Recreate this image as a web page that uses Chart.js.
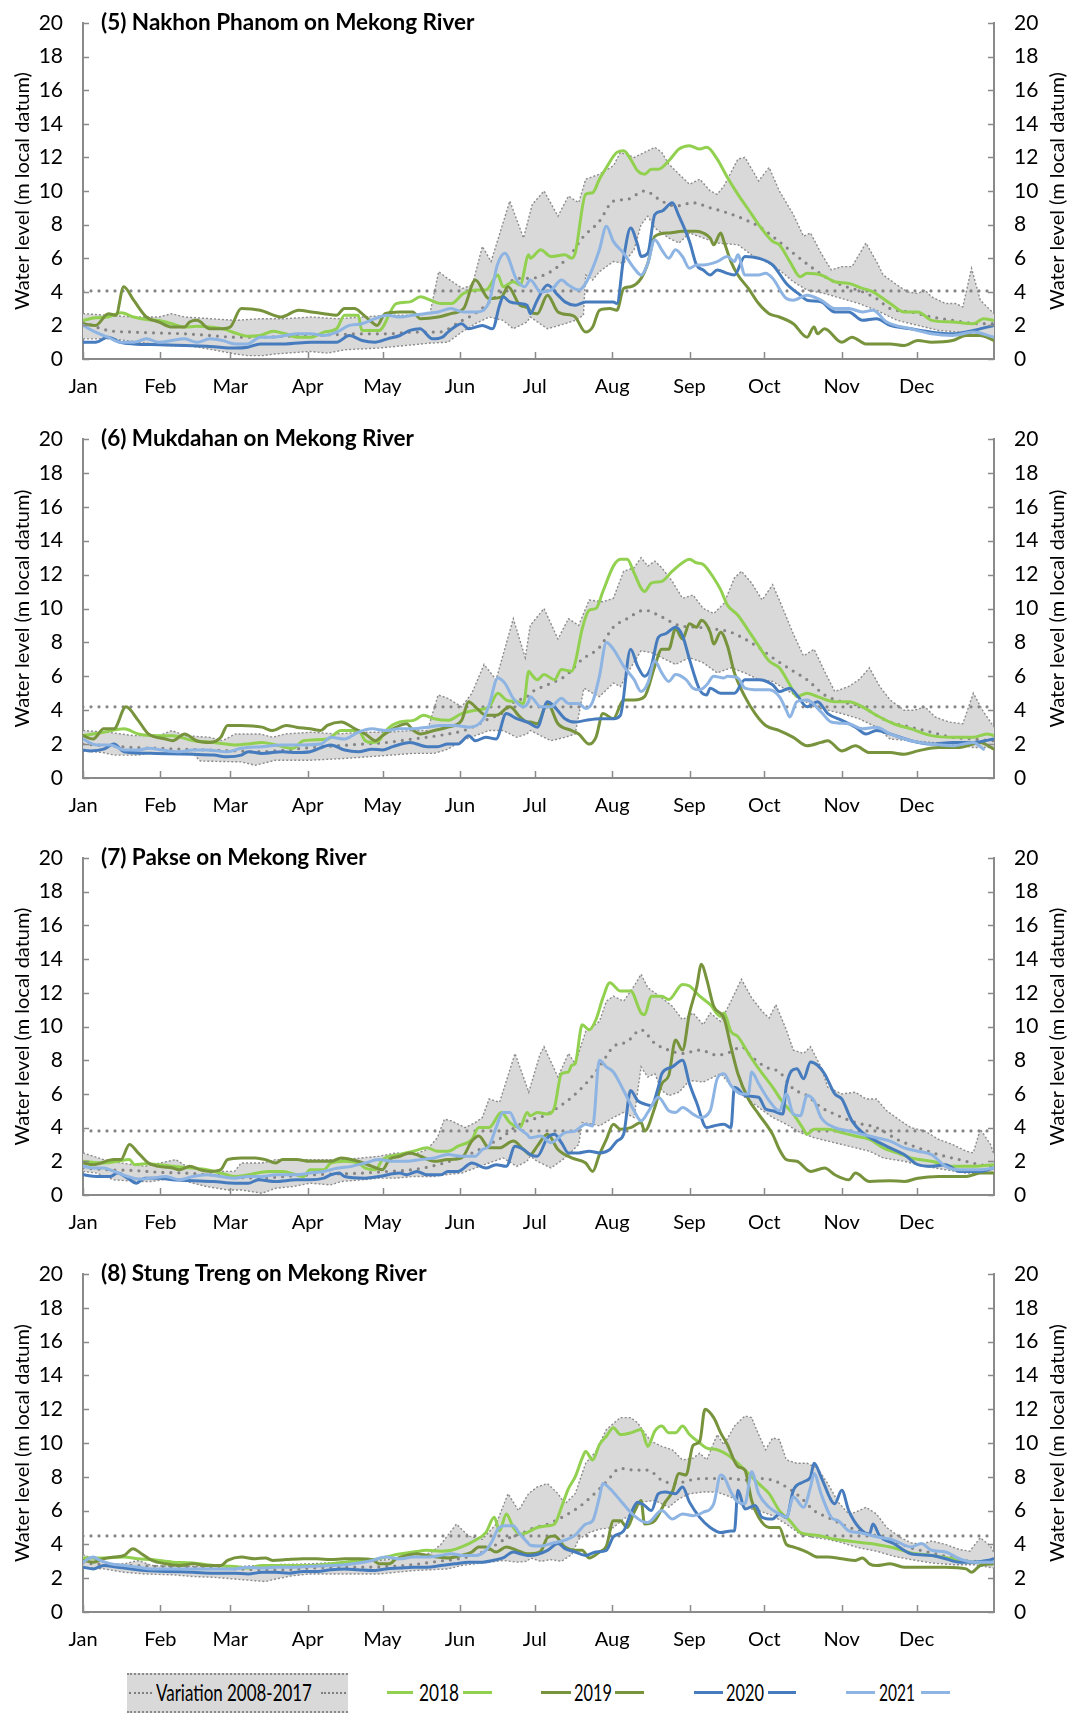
<!DOCTYPE html>
<html>
<head>
<meta charset="utf-8">
<script src="https://cdn.jsdelivr.net/npm/chart.js@4.4.0/dist/chart.umd.min.js"></script>
<style>
  html,body{margin:0;padding:0;background:#fff;}
  body{position:relative;width:1073px;height:1713px;overflow:hidden;font-family:Lato,"Open Sans",sans-serif;}
  canvas{position:absolute;left:0;}
  .lg-box{position:absolute;background:#d9d9d9;border-top:2px dotted #8a8a8a;border-bottom:2px dotted #8a8a8a;box-sizing:border-box;}
  .lg-dot{position:absolute;top:1692px;height:0;border-top:2px dotted #7f7f7f;}
  .lg-line{position:absolute;top:1691px;height:3px;}
  .lg-txt{position:absolute;top:1680px;font-size:24px;line-height:24px;font-family:Lato,sans-serif;color:#000;white-space:nowrap;transform-origin:0 50%;}
</style>
</head>
<body>

<div class="lg-box" style="left:127px;top:1673px;width:221px;height:40px;"></div>
<div class="lg-dot" style="left:129px;width:23px;"></div>
<span class="lg-txt" data-w="156" style="left:156px;">Variation 2008-2017</span>
<div class="lg-dot" style="left:321px;width:25px;"></div>

<div class="lg-line" style="left:387px;width:26px;background:#92D050;"></div>
<span class="lg-txt" data-w="40" style="left:419px;">2018</span>
<div class="lg-line" style="left:463px;width:29px;background:#92D050;"></div>

<div class="lg-line" style="left:541px;width:30px;background:#77933C;"></div>
<span class="lg-txt" data-w="38" style="left:574px;">2019</span>
<div class="lg-line" style="left:615px;width:29px;background:#77933C;"></div>

<div class="lg-line" style="left:694px;width:29px;background:#467CBE;"></div>
<span class="lg-txt" data-w="38" style="left:726px;">2020</span>
<div class="lg-line" style="left:768px;width:28px;background:#467CBE;"></div>

<div class="lg-line" style="left:846px;width:29px;background:#8DB4E2;"></div>
<span class="lg-txt" data-w="36" style="left:879px;">2021</span>
<div class="lg-line" style="left:921px;width:29px;background:#8DB4E2;"></div>

<script>
// ---------------- DATA ----------------
const MONTHS = ['Jan','Feb','Mar','Apr','May','Jun','Jul','Aug','Sep','Oct','Nov','Dec'];
const MONTH_START = [0,31,59,90,120,151,181,212,243,273,304,334];
const TITLES = ['(5) Nakhon Phanom on Mekong River','(6) Mukdahan on Mekong River','(7) Pakse on Mekong River','(8) Stung Treng on Mekong River'];
const Y_TITLE = 'Water level (m local datum)';
const FLAT_LEVEL = [4.05, 4.2, 3.8, 4.5];

// (5) Nakhon Phanom  [day of year, water level]
const p5_upper = [[0,2.7],[10,2.6],[20,2.5],[30.5,2.5],[35.5,2.7],[40.7,2.5],[51,2.4],[61,2.3],[71,2.4],[81,2.4],[91.5,2.5],[101.5,2.4],[112,2.5],[122,2.6],[132,2.6],[139,2.7],[142.5,5.2],[146,4.8],[152,4.2],[156,4.4],[160,6.7],[163.5,5.8],[171,9.4],[176.5,7.2],[180,9.2],[184.7,10.0],[190.3,8.5],[194.5,9.7],[198.6,9.3],[201.4,10.7],[206.9,11.0],[212.5,11.5],[215.3,12.3],[220.8,12.0],[229.1,12.6],[231.9,12.3],[234.7,11.6],[240.2,10.8],[243,10.4],[247.1,10.7],[251.3,10.0],[254.1,9.8],[256.8,10.3],[262.4,11.9],[265.2,12.0],[270.7,10.6],[274.9,11.4],[279,10.0],[284.6,8.6],[288.7,7.3],[291.5,7.5],[295.7,6.3],[299.8,5.3],[304,5.5],[308.1,5.5],[313.7,6.9],[317.9,5.8],[320.6,5.0],[326.2,4.4],[330.3,4.0],[334.5,3.9],[337.3,4.1],[340,3.7],[345.6,3.3],[349.7,3.3],[352.5,3.1],[356,5.4],[359.5,3.5],[365,2.7]];
const p5_lower = [[0,1.2],[12,1.2],[22,1.0],[33,0.8],[44,0.75],[52,0.55],[61,0.3],[66,0.2],[72,0.2],[77,0.3],[91,0.45],[98,0.35],[105,0.55],[118.6,0.65],[125.5,0.75],[132.4,0.85],[139.3,0.95],[146.2,1.0],[151.7,1.6],[157.2,2.1],[162.7,2.5],[168.3,2.3],[172.4,1.8],[177.9,2.2],[179.2,2.5],[186.1,1.8],[193.1,2.1],[197.2,2.3],[200.5,2.6],[201.4,5.0],[204.2,4.7],[206.9,5.2],[212.5,5.8],[216.6,5.7],[220.8,6.5],[223.6,8.0],[226.3,8.5],[229.1,7.8],[234.7,7.2],[238.8,6.9],[243,7.5],[248.5,7.2],[254.1,6.9],[262.4,6.8],[267.9,6.2],[273.5,5.8],[279,5.3],[284.6,4.6],[290.1,4.1],[297.1,3.9],[304,3.6],[310.9,3.3],[317.9,2.9],[326.2,2.3],[334.5,2.0],[342.8,1.7],[351.1,1.6],[359.5,1.4],[365,1.3]];
const p5_mean = [[0,2.2],[10,1.7],[20.3,1.6],[30.5,1.55],[40.7,1.5],[51,1.4],[61,1.3],[71,1.3],[81,1.35],[91.5,1.4],[101.5,1.45],[111.8,1.5],[122,1.5],[132,1.6],[142.3,1.6],[152,2.3],[157,2.7],[163,3.4],[168.3,4.1],[173.8,4.8],[179,4.8],[184.7,5.0],[190.3,5.5],[195.8,6.3],[200,7.2],[206.9,8.2],[212.5,9.4],[218,9.5],[225,10.0],[231.9,9.4],[237.4,9.1],[244.4,9.3],[251.3,9.0],[258.2,8.7],[265.2,8.3],[270.7,7.9],[276.3,7.3],[284.6,6.3],[291.5,5.5],[298.4,4.8],[304,4.4],[312.3,4.0],[317.9,3.6],[323.4,3.0],[331.7,2.8],[340,2.5],[348.4,2.3],[359.5,2.1],[365,2.1]];
const p5_2018 = [[0,2.3],[5,2.45],[10,2.5],[15.2,2.75],[20.3,2.5],[25.4,2.35],[30.5,2.3],[35.6,2.1],[40.7,1.9],[45.7,1.95],[50.8,1.9],[55.9,1.8],[61,1.55],[66.2,1.35],[71,1.4],[76.3,1.65],[81,1.5],[86,1.3],[91.5,1.3],[96.5,1.6],[101.6,1.8],[104.8,2.6],[110.3,2.6],[111.7,1.7],[118.6,1.7],[125.5,3.3],[131,3.4],[135.2,3.7],[139.3,3.5],[143.4,3.3],[147.6,3.3],[152.4,3.9],[157.2,4.1],[161.4,4.1],[166.2,5.0],[168.3,4.3],[172.4,4.6],[175.1,4.4],[178.6,6.2],[179.2,6.0],[183.4,6.5],[187.5,6.1],[193.1,6.2],[195.8,6.0],[197.2,6.3],[201.4,9.8],[204.2,9.9],[206.9,10.7],[209.7,11.4],[213.9,12.3],[216.6,12.4],[219.4,11.9],[222.2,11.2],[225,11.0],[227.7,11.3],[230.5,11.3],[234.7,11.8],[238.8,12.5],[243,12.7],[247.1,12.5],[249.9,12.6],[254.1,11.9],[258.2,10.8],[262.4,9.8],[266.6,8.9],[270.7,8.0],[276.3,7.0],[279,6.8],[283.2,5.8],[287.4,4.9],[290.1,5.1],[295.7,5.0],[301.2,4.6],[306.8,4.5],[312.3,4.2],[316.5,4.0],[323.4,3.3],[329,2.8],[334.5,2.8],[340,2.3],[348.4,2.2],[356.7,2.1],[360.8,2.4],[365,2.3]];
const p5_2019 = [[0,2.1],[5,2.0],[10.2,2.7],[13.2,2.6],[16.3,4.3],[20.3,3.5],[25.4,2.5],[30.5,2.2],[35.6,1.9],[40.7,1.9],[42.7,2.2],[45.7,2.3],[50.8,1.8],[55.9,1.8],[59,1.9],[63.4,3.0],[71,2.9],[79.3,2.5],[86.4,2.9],[91.5,2.8],[96.5,2.7],[101.6,2.6],[104.7,3.0],[108.8,3.0],[111.8,2.7],[114.9,2.3],[117.9,2.0],[121,2.7],[127,2.8],[132.1,2.8],[135.2,2.4],[142.3,2.5],[147.4,2.7],[152.5,3.0],[157.2,4.7],[162.6,3.6],[167.7,3.7],[170.3,4.3],[175.1,3.2],[178.6,3.0],[179.2,2.8],[182,2.7],[186.1,3.8],[190.3,2.8],[195.8,2.6],[197.2,2.5],[201.4,1.6],[204.2,1.9],[206.9,2.9],[211.1,3.0],[213.9,2.9],[216.6,4.2],[219.4,4.3],[223.6,4.8],[226.3,5.7],[229.1,7.3],[234.7,7.5],[240.2,7.6],[245.8,7.6],[248.5,7.5],[251.3,7.2],[252.7,6.8],[255.5,7.5],[256.8,7.0],[259.6,5.8],[262.4,5.0],[266.6,4.2],[270.7,3.3],[274.9,2.7],[279,2.5],[284.6,2.1],[290.1,1.3],[292.9,1.9],[294.3,1.5],[297.1,1.8],[304,1.0],[308.1,1.3],[313.7,0.9],[323.4,0.9],[329,0.8],[334.5,1.1],[340,1.0],[348.4,1.1],[353.9,1.4],[359.5,1.4],[365,1.1]];
const p5_2020 = [[0,1.0],[5,1.0],[10,1.3],[15,1.0],[20.3,0.9],[30.5,0.85],[40.7,0.8],[50.8,0.75],[61,0.65],[66,0.7],[71,0.9],[81,0.9],[91.5,1.0],[101.6,1.0],[106.7,1.4],[111.8,1.1],[117,1.0],[122,1.2],[127,1.4],[131,1.7],[135,1.8],[140,1.2],[144,1.3],[146.2,1.6],[151.7,2.1],[154.5,1.8],[160,2.0],[164.1,1.8],[166.9,3.2],[168.3,3.7],[171,3.4],[175.1,3.3],[177.9,3.2],[179.2,2.7],[182,3.5],[186.1,4.4],[190.3,3.8],[193.1,3.4],[197.2,3.2],[201.4,3.4],[206.9,3.4],[212.5,3.4],[213.9,3.3],[216.6,6.0],[219.4,7.8],[222.2,6.8],[223.6,6.1],[226.3,6.3],[229.1,8.6],[231.9,8.8],[236.1,9.3],[238.8,8.5],[243,7.0],[245.8,5.6],[248.5,5.3],[251.3,5.0],[254.1,5.3],[258.2,5.1],[261,5.0],[265.2,6.1],[270.7,6.0],[276.3,5.6],[281.8,4.5],[287.4,3.8],[290.1,3.5],[295.7,3.4],[301.2,2.8],[306.8,2.8],[312.3,2.3],[317.9,2.4],[323.4,2.0],[331.7,1.8],[340,1.6],[348.4,1.5],[356.7,1.7],[365,2.0]];
const p5_2021 = [[0,2.0],[5,1.6],[10,1.3],[15,1.0],[20.3,1.0],[25.4,1.2],[30.5,1.0],[35.6,1.1],[40.7,1.2],[45.7,1.0],[50.8,1.2],[55.9,1.1],[61,0.9],[66,0.9],[71,1.3],[76,1.3],[81,1.4],[86,1.5],[91.5,1.5],[96.5,1.4],[101.6,1.6],[106.7,2.0],[111.8,2.1],[117,2.4],[122,2.6],[127,2.5],[132,2.6],[137,2.7],[142.3,2.8],[147.4,3.0],[152.5,2.8],[157.5,2.8],[162.7,3.4],[166,5.6],[169,6.3],[173.8,4.7],[177,4.3],[179.2,4.7],[183.4,4.0],[187.5,4.1],[191.7,4.7],[194.5,4.4],[198.6,4.1],[201.4,4.5],[204.2,5.4],[206.9,6.5],[209.7,7.9],[212.5,7.0],[216.6,6.3],[220.8,5.4],[223.6,5.0],[226.3,5.7],[229.1,7.1],[231.9,6.5],[234.7,6.0],[237.4,6.5],[240.2,6.1],[243,5.4],[245.8,5.6],[248.5,5.6],[254.1,5.8],[258.2,6.1],[261,5.8],[262.4,6.2],[265.2,5.0],[270.7,5.0],[273.5,5.1],[276.3,4.8],[281.8,3.6],[284.6,3.5],[290.1,3.8],[295.7,3.5],[301.2,3.0],[306.8,3.0],[312.3,2.8],[316.5,2.9],[322,2.2],[331.7,1.8],[340,1.5],[348.4,1.4],[356.7,1.6],[365,1.3]];

// (6) Mukdahan
const p6_upper = [[0,2.8],[10,2.7],[20.3,2.5],[30.5,2.5],[35.6,2.8],[40.7,2.5],[50.8,2.4],[55.9,2.2],[61,2.6],[71,2.6],[76,2.4],[81,2.6],[91.5,2.7],[101.6,2.6],[111.8,2.7],[122,2.7],[132,2.8],[138,2.8],[142.3,4.9],[146.2,4.7],[151.7,4.2],[155.8,5.0],[160.7,6.7],[165.5,5.8],[172.4,9.4],[177.2,7.1],[179.2,9.0],[184.7,10.0],[190.3,8.2],[194.5,9.4],[198.6,9.0],[202.8,10.5],[208.3,10.4],[212.5,10.6],[216.6,12.2],[220.8,12.4],[223.6,13.0],[226.3,12.5],[229.1,12.8],[231.9,12.4],[236.1,11.6],[240.2,10.6],[244.4,10.8],[248.5,10.0],[252.7,9.7],[256.8,10.3],[261,11.8],[263.8,12.2],[267.9,11.5],[272.1,10.5],[276.3,11.4],[279,10.5],[284.6,8.5],[288.7,7.2],[292.9,7.6],[297.1,6.3],[301.2,5.1],[306.8,5.4],[310.9,5.8],[315.1,6.5],[319.2,5.4],[323.4,4.6],[329,4.0],[333.1,4.0],[337.3,4.2],[341.4,3.6],[347,3.3],[352.5,3.2],[356.7,5.0],[360.8,3.9],[365,3.0]];
const p6_lower = [[0,1.6],[8,1.5],[12.4,1.35],[22,1.35],[26,1.45],[44,1.45],[47,1.0],[63.4,0.95],[69,0.75],[77.2,1.05],[91,1.05],[104.8,1.15],[118.6,1.3],[132.4,1.45],[140.7,1.45],[146.2,1.7],[151.7,2.2],[157.2,2.5],[162.7,2.8],[168.3,2.8],[173.8,2.4],[177.9,2.6],[179.2,2.8],[182,2.6],[187.5,2.2],[193.1,2.4],[197.2,2.6],[200.7,5.3],[204.2,5.0],[206.9,4.8],[212.5,5.6],[215.3,5.4],[219.4,6.5],[223.6,7.5],[227.7,7.4],[231.9,7.1],[237.4,6.7],[243,7.1],[248.5,6.8],[254.1,6.2],[259.6,6.5],[265.2,6.2],[270.7,5.8],[276.3,5.7],[281.8,5.2],[287.4,4.7],[292.9,4.2],[298.4,4.0],[304,3.8],[310.9,3.5],[317.9,3.0],[323.4,2.3],[331.7,2.2],[340,2.1],[348.4,2.0],[356.7,1.8],[365,1.8]];
const p6_mean = [[0,2.0],[10,1.9],[20.3,1.8],[30.5,1.75],[40.7,1.7],[50.8,1.65],[61,1.6],[71,1.55],[81,1.65],[91.5,1.8],[101.6,1.9],[111.8,2.0],[122,2.1],[132,2.3],[142.3,2.5],[152.5,2.8],[157.5,3.1],[162.6,3.5],[167.7,3.8],[172.8,4.5],[178,4.8],[179.2,5.0],[186.1,5.5],[193.1,6.0],[200,7.0],[206.9,7.7],[212.5,8.9],[218,9.4],[225,9.9],[231.9,9.5],[238.8,9.0],[245.8,8.9],[252.7,8.8],[259.6,8.6],[265.2,8.2],[270.7,7.7],[276.3,7.1],[284.6,6.3],[290.1,5.8],[297.1,4.9],[304,4.5],[312.3,4.2],[317.9,3.7],[323.4,3.3],[331.7,3.0],[340,2.7],[348.4,2.4],[356.7,2.3],[365,2.2]];
const p6_2018 = [[0,2.5],[8.3,2.7],[16.5,2.9],[22.1,2.6],[30.3,2.5],[35.9,2.5],[44.1,2.2],[52.4,2.1],[60.7,1.95],[66.2,2.0],[71.7,2.1],[77.2,1.95],[84.1,1.75],[88.3,2.2],[97.9,2.3],[103.4,2.8],[110.3,2.8],[113.1,2.2],[115.8,2.1],[118.6,2.2],[121.4,2.8],[126.9,3.3],[132.4,3.4],[136.5,3.7],[140.7,3.5],[146.2,3.4],[151.7,3.8],[157.2,4.0],[162.7,4.2],[166.2,5.0],[169.6,4.6],[173.8,4.5],[176.5,4.4],[178.6,6.3],[179.2,6.2],[182,5.8],[184.7,6.1],[188.9,5.8],[191.7,6.4],[195.8,6.3],[197.2,6.8],[200,8.8],[202.8,9.9],[205.5,10.0],[208.3,11.0],[212.5,12.5],[215.3,12.9],[218,12.9],[220.8,12.1],[223.6,11.2],[225,11.0],[227.7,11.5],[231.9,11.6],[236.1,12.2],[240.2,12.7],[243,12.9],[245.8,12.7],[248.5,12.6],[252.7,11.8],[255.5,11.1],[258.2,10.2],[262.4,9.6],[266.6,8.7],[270.7,7.8],[274.9,6.9],[279,6.5],[283.2,5.5],[286,4.8],[290.1,5.0],[294.3,4.8],[301.2,4.5],[306.8,4.5],[312.3,4.2],[317.9,3.7],[324.8,3.2],[331.7,2.9],[340,2.5],[348.4,2.4],[356.7,2.4],[362.2,2.6],[365,2.5]];
const p6_2019 = [[0,2.5],[4.1,2.3],[8.3,2.9],[12.4,2.9],[17.2,4.2],[22.1,3.4],[26.2,2.6],[33.1,2.3],[35.9,2.2],[40.7,2.6],[45.5,2.2],[51,2.1],[55.2,2.4],[57.9,3.1],[63.4,3.1],[71.7,3.0],[75.9,2.8],[81.4,3.1],[85.5,3.0],[91,2.9],[95.2,2.8],[97.9,3.1],[103.4,3.3],[109,2.9],[113.1,2.6],[117.2,2.2],[120,2.5],[125.5,3.0],[129.6,3.2],[132.4,2.8],[135.2,2.6],[140.7,2.8],[146.2,3.0],[151.7,3.4],[154.5,4.5],[157.2,4.2],[161.4,3.7],[165.5,3.7],[171,4.2],[175.1,3.6],[178,3.3],[179.2,3.3],[182,3.2],[186.1,4.4],[190.3,3.2],[195.8,2.8],[198.6,2.6],[202.8,2.0],[205.5,2.4],[208.3,3.8],[212.5,3.5],[216.6,4.6],[220.8,4.6],[225,4.8],[229.1,6.6],[231.9,7.6],[234.7,7.6],[237.4,8.8],[240.2,8.2],[243,9.1],[245.8,8.9],[247.8,9.3],[251.3,8.6],[252.7,7.9],[255.5,8.6],[258.2,7.8],[261,6.2],[265.2,4.8],[269.3,3.8],[273.5,3.1],[279,2.8],[284.6,2.4],[290.1,1.9],[295.7,2.1],[298.4,2.2],[304,1.6],[309.5,1.9],[315.1,1.5],[323.4,1.5],[329,1.4],[334.5,1.6],[342.8,1.8],[351.1,1.8],[359.5,2.1],[365,1.7]];
const p6_2020 = [[0,1.65],[2.8,1.6],[8.3,1.7],[12.4,2.0],[16.5,1.55],[29,1.45],[44.1,1.4],[52.4,1.35],[57.9,1.25],[63.4,1.35],[66.2,1.55],[71.7,1.45],[80,1.55],[85.5,1.5],[91,1.55],[99.3,1.95],[104.8,1.65],[110.3,1.55],[115.8,1.7],[120,1.65],[124.1,1.85],[131,2.1],[137.9,1.85],[142,1.85],[146.2,2.0],[150.3,2.0],[154.5,2.5],[157.2,2.2],[161.4,2.4],[165.5,2.3],[169.6,3.8],[173.8,3.5],[178,3.3],[179.2,3.2],[182,3.0],[186.1,4.5],[188.9,4.2],[193.1,3.5],[197.2,3.3],[201.4,3.4],[206.9,3.5],[212.5,3.5],[215.3,3.7],[219.4,7.6],[222.2,6.6],[225,6.0],[227.7,6.6],[230.5,8.3],[233.3,8.5],[237.4,8.9],[240.2,8.4],[243,7.0],[247.1,5.2],[249.9,4.9],[251.3,5.3],[255.5,5.0],[261,5.0],[265.2,5.8],[270.7,5.8],[276.3,5.5],[279,5.1],[283.2,5.3],[286,4.9],[290.1,4.2],[294.3,4.5],[298.4,3.8],[304,3.4],[309.5,3.0],[313.7,2.6],[317.9,2.8],[323.4,2.6],[331.7,2.2],[340,2.0],[348.4,2.1],[356.7,2.1],[365,2.3]];
const p6_2021 = [[0,2.3],[5.5,1.95],[11,1.95],[16.5,1.65],[22.1,1.65],[26.2,1.75],[31.7,1.65],[38.6,1.55],[44.1,1.65],[49.6,1.65],[57.9,1.55],[63.4,1.75],[71.7,1.85],[80,1.95],[88.3,1.95],[95.2,2.0],[99.3,2.4],[104.8,2.3],[110.3,2.7],[115.8,2.9],[121.4,2.8],[126.9,2.9],[132.4,2.9],[137.9,3.0],[143.4,3.1],[148.9,3.1],[154.5,3.0],[160,3.4],[162.7,4.3],[166.2,5.9],[169,5.6],[172.4,4.7],[176.5,4.2],[178.5,4.5],[179.2,4.8],[183.4,4.2],[187.5,4.2],[191.7,4.7],[194.5,4.4],[198.6,4.4],[201.4,4.1],[204.2,4.5],[206.9,6.0],[209.7,8.0],[212.5,7.6],[216.6,6.6],[220.8,5.8],[223.6,5.1],[226.3,5.6],[229.1,6.9],[231.9,6.2],[234.7,5.7],[237.4,6.1],[241.6,5.8],[244.4,5.3],[247.1,5.2],[249.9,5.5],[252.7,6.0],[256.8,5.9],[258.2,6.0],[262.4,5.9],[265.2,5.3],[270.7,5.2],[274.9,5.2],[279,4.8],[281.8,4.0],[283.2,3.6],[286,4.5],[290.1,4.6],[295.7,3.9],[299.8,3.3],[306.8,3.2],[312.3,2.9],[317.9,3.0],[323.4,2.6],[331.7,2.2],[340,2.0],[348.4,1.9],[356.7,2.1],[360.8,1.7]];

// (7) Pakse
const p7_upper = [[0,2.5],[8.3,2.1],[15.2,1.9],[24.8,1.7],[37.2,2.1],[41.4,1.7],[49.6,1.4],[60.7,1.4],[63.4,1.9],[71.7,1.9],[77.2,2.1],[91,2.1],[104.8,2.1],[118.6,2.3],[125.5,2.5],[132.4,2.4],[137.9,2.7],[142,3.4],[144.8,4.5],[147.6,4.4],[153.1,4.0],[157.2,4.3],[160,4.6],[162.7,5.7],[166.9,5.5],[173.1,8.4],[178.6,6.1],[183,8.3],[184.7,8.8],[190.3,7.0],[194.5,8.4],[197.2,7.8],[201.4,9.7],[206.9,10.3],[209.7,11.5],[212.5,11.8],[216.6,11.5],[220.8,12.4],[223.6,13.1],[226.3,12.3],[229.1,12.0],[231.9,11.7],[236.1,11.2],[240.2,10.4],[244.4,10.8],[248.5,10.1],[251.3,10.8],[255.5,10.3],[259.6,11.5],[263.8,12.8],[267.9,11.7],[272.1,10.9],[274.9,10.5],[277.6,11.3],[281.8,9.8],[284.6,8.6],[288.7,8.4],[291.5,8.8],[295.7,7.6],[298.4,6.4],[304,6.0],[309.5,6.1],[313.7,5.7],[317.9,5.7],[322,5.0],[327.6,4.4],[331.7,4.0],[337.3,3.8],[342.8,3.3],[348.4,3.0],[353.9,2.6],[356.7,2.5],[359.5,3.9],[363.6,3.0],[365,2.4]];
const p7_lower = [[0,1.4],[5.5,1.3],[12.4,0.9],[22.1,0.8],[27.6,0.8],[35.9,1.0],[44.1,0.7],[49.6,0.5],[57.9,0.3],[63.4,0.3],[71.7,0.1],[77.2,0.4],[84.1,0.5],[91,0.7],[99.3,0.6],[103.4,0.8],[111.7,0.9],[118.6,1.0],[125.5,1.0],[132.4,1.1],[140.7,1.1],[144.8,1.2],[151.7,1.3],[157.2,1.6],[162.7,1.9],[168.3,2.2],[173.8,1.7],[177.9,2.0],[179.2,2.3],[182,2.0],[187.5,1.6],[193.1,2.2],[198.6,3.0],[200,4.3],[204.2,4.2],[206.9,4.1],[212.5,4.6],[216.6,4.9],[220.8,4.6],[223.6,7.6],[226.3,7.0],[229.1,7.2],[231.9,6.2],[234.7,5.9],[238.8,6.1],[243,6.8],[248.5,6.7],[251.3,6.9],[255.5,7.2],[259.6,6.5],[265.2,5.8],[270.7,5.2],[276.3,4.6],[281.8,4.2],[287.4,3.7],[292.9,3.4],[298.4,3.2],[304,3.0],[309.5,2.8],[315.1,2.6],[320.6,2.2],[329,2.0],[337.3,1.7],[345.6,1.5],[353.9,1.3],[365,1.3]];
const p7_mean = [[0,1.6],[10,1.5],[20.3,1.45],[30.5,1.35],[40.7,1.3],[50.8,1.2],[61,1.05],[71,1.0],[81,1.1],[91.5,1.2],[101.6,1.25],[111.8,1.3],[122,1.4],[132,1.5],[142.3,1.8],[152.5,2.3],[157.5,2.6],[162.6,3.0],[167.7,3.4],[172.8,4.0],[178,4.4],[184.7,4.7],[190.3,5.2],[195.8,5.8],[201.4,6.6],[206.9,7.6],[212.5,8.8],[218,9.1],[223.6,9.8],[229.1,9.0],[234.7,8.6],[240.2,8.4],[247.1,8.6],[254.1,8.3],[259.6,8.5],[263.8,8.8],[267.9,8.2],[273.5,7.6],[279,7.3],[284.6,6.3],[290.1,5.9],[295.7,5.2],[301.2,4.8],[309.5,4.3],[317.9,4.0],[326.2,3.3],[334.5,2.8],[342.8,2.4],[351.1,2.1],[359.5,1.8],[365,1.7]];
const p7_2018 = [[0,2.0],[8.3,1.9],[13.8,2.0],[18.6,2.1],[20.7,1.8],[24.8,1.85],[30.3,1.8],[35.9,1.7],[44.1,1.6],[49.6,1.5],[55.2,1.3],[60.7,1.1],[66.2,1.2],[74.5,1.4],[80,1.4],[85.5,1.2],[88.3,1.1],[91,1.5],[96.5,1.5],[99.3,1.9],[104.8,2.0],[110.3,1.9],[113.1,1.6],[117.2,1.5],[120,2.1],[126.9,2.4],[132.4,2.6],[137.9,2.8],[142,2.6],[146.2,2.6],[150.3,2.9],[155.8,3.3],[158.6,4.0],[162.7,4.0],[167.6,4.9],[171,4.3],[175.1,4.0],[177.9,4.9],[179.2,4.7],[182,4.9],[186.1,4.8],[188.9,5.2],[191.7,7.2],[194.5,7.3],[195.8,7.7],[197.2,7.8],[200,10.1],[202.8,9.8],[205.5,10.4],[208.3,11.7],[211.1,12.6],[215.3,12.1],[219.4,12.1],[223.6,10.8],[225,10.7],[227.7,11.8],[231.9,11.8],[234.7,11.6],[240.2,12.5],[243,12.4],[247.1,11.8],[251.3,11.3],[255.5,10.6],[256.8,10.8],[259.6,9.7],[262.4,9.4],[266.6,8.4],[270.7,7.5],[276.3,6.4],[280.4,5.5],[284.6,4.8],[288.7,3.9],[290.1,3.6],[292.9,3.9],[298.4,3.9],[304,3.7],[309.5,3.5],[315.1,3.3],[320.6,2.8],[326.2,2.5],[331.7,2.2],[340,2.0],[348.4,1.7],[356.7,1.7],[365,1.8]];
const p7_2019 = [[0,1.9],[4.1,1.8],[12.4,2.1],[15.2,2.1],[18.6,3.0],[22.1,2.5],[26.2,1.9],[30.3,1.7],[35.9,1.6],[38.6,1.5],[42.8,1.7],[46.9,1.5],[51,1.4],[55.2,1.5],[57.9,2.1],[63.4,2.2],[69,2.2],[73.1,2.1],[77.2,1.9],[80,2.1],[85.5,2.1],[91,2.0],[99.3,2.0],[103.4,2.2],[110.3,2.0],[115.8,1.7],[120,1.5],[122.7,2.1],[126.9,2.3],[131,2.5],[135.2,2.3],[140.7,2.0],[146.2,2.1],[151.7,2.2],[155.8,3.2],[158.6,3.5],[162.7,2.8],[166.9,2.8],[172.4,3.2],[176.5,2.7],[179.2,2.4],[182,2.9],[186.1,3.6],[190.3,2.7],[195.8,2.2],[201.4,1.9],[204.2,1.4],[206.9,2.4],[209.7,3.3],[212.5,4.2],[215.3,3.9],[219.4,4.0],[223.6,4.3],[225,3.8],[229.1,5.2],[231.9,6.6],[234.7,7.1],[237.4,9.2],[240.2,8.6],[243,10.8],[245.8,12.3],[247.8,13.7],[249.9,12.8],[252.7,11.2],[256.8,10.5],[259.6,8.8],[262.4,7.2],[266.6,5.7],[270.7,4.8],[276.3,3.6],[279,2.7],[281.8,2.1],[286,2.0],[291.5,1.4],[297.1,1.6],[301.2,1.2],[306.8,0.9],[309.5,1.3],[315.1,0.8],[323.4,0.85],[329,0.8],[334.5,1.0],[342.8,1.1],[353.9,1.1],[359.5,1.3],[365,1.3]];
const p7_2020 = [[0,1.2],[5.5,1.1],[11,1.1],[13.8,1.3],[17.9,1.0],[21.4,0.7],[24.8,1.0],[30.3,1.0],[35.9,0.9],[44.1,0.85],[52.4,0.8],[60.7,0.7],[66.2,0.7],[70.3,0.9],[77.2,0.8],[85.5,0.9],[91,0.9],[96.5,1.0],[99.3,1.2],[102.7,1.3],[104.8,1.1],[113.1,1.0],[118.6,1.1],[126.9,1.3],[129.6,1.2],[133.8,1.4],[137.9,1.2],[143.4,1.2],[146.2,1.4],[150.3,1.4],[155.8,1.9],[161.4,1.6],[165.5,1.8],[169.6,1.7],[173.1,2.9],[176.5,2.7],[179.2,2.4],[182,2.3],[186.1,3.4],[188.9,3.6],[191.7,3.1],[194.5,2.5],[198.6,2.5],[202.8,2.6],[206.9,2.5],[211.1,2.7],[213.9,3.2],[216.6,3.6],[219.4,6.2],[222.2,5.6],[225,5.4],[227.7,5.3],[230.5,6.4],[231.9,7.2],[236.1,7.6],[240.2,8.0],[243,6.6],[245.8,5.5],[249.9,4.0],[252.7,4.1],[256.8,4.2],[259.6,4.0],[261,6.4],[262.4,6.3],[265.2,5.9],[270.7,5.8],[273.5,5.1],[276.3,5.0],[280.4,4.8],[281.8,6.5],[286,7.5],[288.7,6.9],[291.5,7.9],[294.3,7.7],[297.1,7.2],[301.2,6.0],[304,5.7],[308.1,4.4],[312.3,3.7],[317.9,3.2],[323.4,2.8],[329,2.4],[334.5,1.8],[340,1.7],[345.6,1.8],[351.1,1.4],[359.5,1.4],[365,1.6]];
const p7_2021 = [[0,1.7],[4.1,1.6],[8.3,1.6],[12.4,1.4],[17.9,1.1],[22.1,0.95],[27.6,1.0],[33.1,1.1],[38.6,0.9],[44.1,1.1],[49.6,1.2],[55.2,1.1],[60.7,1.0],[66.2,1.1],[71.7,1.1],[77.2,1.2],[85.5,1.2],[91,1.3],[96.5,1.4],[102.1,1.6],[107.6,1.7],[113.1,1.9],[118.6,2.1],[124.1,2.0],[129.6,2.0],[135.2,2.1],[140.7,2.2],[146.2,2.4],[151.7,2.3],[157.2,2.3],[160,2.7],[162.7,2.9],[165.5,4.0],[168.3,4.9],[171,4.9],[173.8,4.1],[177.9,3.6],[179.2,3.4],[183.4,3.5],[187.5,3.1],[193.1,3.7],[197.2,3.8],[201.4,4.2],[204.2,4.1],[206.9,8.0],[209.7,7.6],[212.5,7.3],[216.6,6.2],[220.8,5.0],[223.6,4.4],[226.3,4.9],[230.5,5.8],[234.7,5.0],[237.4,4.9],[240.2,5.2],[244.4,4.8],[247.1,4.6],[251.3,5.0],[254.1,6.9],[256.8,7.2],[259.6,6.5],[263.8,6.0],[266.6,6.0],[267.9,7.3],[270.7,6.6],[274.9,5.6],[279,5.0],[281.8,6.0],[284.6,4.8],[287.4,4.7],[290.1,5.9],[292.9,5.6],[295.7,4.6],[301.2,4.0],[306.8,3.8],[312.3,3.6],[317.9,3.4],[323.4,3.2],[329,2.8],[334.5,2.6],[340,2.4],[345.6,1.7],[351.1,1.5],[359.5,1.5],[365,1.6]];

// (8) Stung Treng
const p8_upper = [[0,3.4],[5.5,3.05],[11,2.85],[16.5,2.85],[22.1,3.05],[27.6,2.75],[35.9,2.7],[49.6,2.7],[63.4,2.7],[77.2,2.8],[91,2.85],[104.8,2.95],[118.6,3.05],[132.4,3.25],[139.3,3.5],[143.4,4.0],[149.6,5.2],[154.5,4.5],[160,4.3],[165.5,5.2],[170.3,7.0],[174.5,6.0],[178.5,7.0],[182,7.4],[186.1,7.6],[190.3,7.0],[193.1,6.4],[197.2,7.0],[201.4,8.8],[205.5,9.5],[209.7,10.8],[215.3,11.5],[219.4,11.5],[222.2,11.2],[225,10.6],[227.7,10.1],[231.9,9.8],[236.1,9.6],[240.2,9.0],[244.4,9.1],[247.1,9.4],[249.9,9.0],[254.1,10.5],[256.8,9.9],[261,11.0],[265.2,11.6],[267.9,11.5],[270.7,10.5],[273.5,9.6],[276.3,10.3],[279,10.2],[281.8,9.0],[286,8.8],[290.1,8.8],[294.3,8.5],[298.4,7.6],[302.6,6.5],[306.8,5.8],[309.5,5.9],[313.7,6.2],[317.9,5.8],[322,5.0],[327.6,4.4],[331.7,4.1],[335.9,4.0],[340,4.2],[345.6,4.0],[351.1,3.7],[355.3,3.6],[359.5,4.4],[363.6,3.9],[365,3.5]];
const p8_lower = [[0,2.65],[8.3,2.55],[16.5,2.35],[24.8,2.25],[35.9,2.2],[44.1,2.1],[52.4,2.05],[60.7,1.95],[69,1.85],[73.1,1.8],[77.2,1.95],[84.1,2.15],[91,2.25],[104.8,2.25],[118.6,2.25],[132.4,2.45],[139.3,2.5],[146.2,2.55],[151.7,2.75],[157.2,2.85],[162.7,2.95],[168.3,3.05],[173.8,2.95],[178,3.0],[179.2,3.2],[183.4,3.0],[187.5,3.1],[191.7,3.0],[195.8,3.4],[198.6,4.3],[202.8,4.7],[206.9,4.9],[212.5,5.0],[216.6,5.5],[220.8,5.9],[223.6,6.5],[229.1,6.6],[234.7,6.2],[238.8,6.7],[243,7.0],[248.5,7.1],[254.1,7.1],[259.6,6.8],[265.2,6.2],[270.7,6.0],[276.3,5.7],[281.8,5.2],[287.4,4.6],[292.9,4.4],[298.4,4.3],[304,4.1],[310.9,3.8],[317.9,3.6],[324.8,3.3],[331.7,3.1],[340,2.9],[348.4,2.8],[356.7,2.8],[365,2.6]];
const p8_mean = [[0,2.9],[10,2.8],[20.3,2.75],[30.5,2.7],[40.7,2.65],[50.8,2.6],[61,2.55],[71,2.5],[81,2.5],[91.5,2.6],[101.6,2.65],[111.8,2.65],[122,2.7],[132,2.8],[142.3,3.0],[152.5,3.2],[157.5,3.4],[162.6,3.7],[167.7,4.2],[172.8,4.5],[178,4.8],[179.2,4.9],[186.1,5.2],[193.1,5.7],[198.6,6.2],[204.2,6.9],[209.7,7.7],[215.3,8.5],[220.8,8.4],[226.3,8.4],[231.9,7.8],[237.4,7.6],[243,7.8],[248.5,7.9],[254.1,7.9],[259.6,7.9],[265.2,7.8],[270.7,7.9],[276.3,7.8],[281.8,7.4],[287.4,6.8],[292.9,6.0],[298.4,5.6],[304,5.2],[310.9,4.8],[317.9,4.5],[324.8,4.2],[331.7,3.8],[340,3.5],[348.4,3.2],[356.7,3.0],[365,3.0]];
const p8_2018 = [[0,3.2],[8.3,3.2],[16.5,3.25],[22.1,3.15],[27.6,3.1],[35.9,2.95],[44.1,2.9],[52.4,2.75],[60.7,2.7],[66.2,2.6],[71.7,2.75],[77.2,2.75],[91,2.75],[99.3,2.85],[104.8,2.95],[113.1,3.05],[118.6,3.15],[124.1,3.35],[132.4,3.55],[137.9,3.65],[143.4,3.6],[147.6,3.65],[151.7,3.85],[157.2,4.25],[161.4,4.7],[164.8,5.6],[166.9,4.8],[169.6,5.8],[172.4,5.0],[175.1,4.6],[177.9,4.7],[179.2,4.8],[182,5.0],[186.1,5.1],[188.9,5.2],[191.7,6.2],[194.5,7.3],[197.2,8.0],[200,9.1],[201.4,9.5],[204.2,9.0],[206.9,9.9],[209.7,10.4],[212.5,10.9],[215.3,10.5],[219.4,10.6],[223.6,10.8],[226.3,9.8],[229.1,10.7],[231.9,11.0],[234.7,10.6],[237.4,10.6],[240.2,11.0],[243,10.5],[247.1,10.0],[249.9,9.7],[254.1,9.6],[258.2,9.3],[262.4,8.8],[266.6,8.2],[270.7,7.6],[274.9,7.0],[279,6.0],[283.2,5.4],[287.4,4.7],[290.1,4.6],[295.7,4.5],[301.2,4.3],[306.8,4.2],[312.3,4.1],[317.9,4.0],[324.8,3.8],[331.7,3.5],[340,3.35],[348.4,3.15],[356.7,2.95],[365,2.95]];
const p8_2019 = [[0,3.05],[4.1,2.95],[8.3,3.15],[12.4,3.25],[16.5,3.35],[20,3.75],[23.4,3.45],[27.6,3.05],[33.1,2.85],[38.6,2.75],[44.1,2.85],[49.6,2.75],[55.2,2.75],[57.9,3.05],[63.4,3.25],[69,3.15],[73.1,3.2],[75.9,3.05],[81.4,3.1],[88.3,3.15],[93.8,3.15],[99.3,3.1],[104.8,3.15],[110.3,3.15],[115.8,3.1],[118.6,2.85],[122.7,2.85],[125.5,3.15],[129.6,3.35],[133.8,3.45],[137.9,3.35],[142,3.25],[146.2,3.2],[151.7,3.35],[155.8,3.55],[158.6,3.85],[161.4,3.85],[165.5,3.55],[169.6,3.85],[173.8,3.65],[177.9,3.45],[179.2,3.45],[183.4,3.6],[186.1,4.4],[188.9,4.5],[193.1,3.85],[197.2,3.65],[200,3.65],[202.8,3.2],[206.9,3.55],[209.7,3.9],[212.5,5.4],[215.3,5.4],[218,5.0],[220.8,5.9],[223.6,6.6],[225,5.2],[229.1,5.4],[233.3,6.5],[236.1,7.1],[238.8,8.2],[241.6,8.1],[244.4,9.85],[247.1,10.1],[249.2,12.0],[252.7,11.5],[255.5,10.6],[258.2,9.9],[262.4,8.6],[265.2,8.4],[267.9,6.6],[270.7,5.6],[274.9,5.0],[279,5.0],[281.8,4.0],[284.6,3.85],[290.1,3.55],[294.3,3.25],[298.4,3.25],[304,3.15],[309.5,3.05],[312.3,3.2],[315.1,2.85],[317.9,2.75],[323.4,2.85],[329,2.65],[337.3,2.65],[345.6,2.65],[353.9,2.55],[356,2.35],[359.5,2.75],[365,2.85]];
const p8_2020 = [[0,2.65],[4.1,2.55],[8.3,2.75],[13.8,2.65],[19.3,2.55],[24.8,2.45],[33.1,2.4],[44.1,2.35],[52.4,2.3],[60.7,2.3],[66.2,2.25],[71.7,2.35],[77.2,2.35],[82.7,2.3],[88.3,2.4],[93.8,2.4],[99.3,2.5],[104.8,2.55],[110.3,2.5],[115.8,2.45],[121.4,2.55],[126.9,2.6],[132.4,2.65],[137.9,2.65],[143.4,2.75],[148.9,2.85],[154.5,2.95],[160,2.95],[164.1,3.05],[168.3,3.2],[172.4,3.55],[175.1,3.45],[178,3.35],[179.2,3.35],[182,3.4],[186.1,3.65],[190.3,4.05],[193.1,3.75],[197.2,3.55],[201.4,3.35],[205.5,3.55],[209.7,3.65],[212.5,4.45],[216.6,4.8],[219.4,5.8],[222.2,6.5],[225,6.3],[227.7,6.0],[230.5,7.0],[233.3,7.1],[237.4,7.0],[240.2,7.4],[243,6.5],[247.1,5.6],[251.3,5.0],[255.5,4.7],[259.6,4.8],[261,4.8],[262.4,7.2],[265.2,6.1],[269.3,6.3],[272.1,5.6],[276.3,5.5],[279,5.8],[281.8,5.6],[284.6,7.2],[288.7,7.7],[291.5,8.0],[292.9,8.8],[295.7,8.0],[299.8,6.6],[301.2,6.4],[304,7.2],[306.8,6.0],[310.9,5.0],[315.1,4.6],[316.5,5.2],[319.2,4.5],[324.8,4.05],[331.7,3.45],[340,3.35],[345.6,3.15],[351.1,2.95],[356.7,2.95],[362.2,3.05],[365,3.15]];
const p8_2021 = [[0,2.95],[4.1,3.25],[6.9,3.05],[11,2.85],[16.5,2.75],[22.1,2.65],[27.6,2.55],[35.9,2.55],[44.1,2.55],[52.4,2.55],[60.7,2.55],[66.2,2.65],[71.7,2.6],[77.2,2.65],[85.5,2.65],[91,2.7],[99.3,2.75],[104.8,2.8],[110.3,2.9],[115.8,3.05],[121.4,3.25],[126.9,3.15],[132.4,3.25],[137.9,3.25],[143.4,3.35],[147.6,3.45],[151.7,3.35],[157.2,3.35],[161.4,3.65],[164.1,4.25],[166.2,4.9],[169,5.1],[172.4,5.1],[175.1,4.6],[177.9,4.15],[179.2,3.95],[183.4,3.9],[187.5,4.05],[193.1,4.25],[197.2,4.55],[201.4,5.2],[204.2,5.4],[206.9,6.8],[208.3,7.6],[211.1,7.3],[215.3,6.6],[219.4,5.9],[223.6,5.4],[226.3,5.3],[231.9,6.0],[236.1,5.5],[240.2,5.8],[244.4,5.7],[248.5,5.9],[252.7,6.4],[255.5,8.1],[256.8,8.0],[259.6,7.1],[262.4,6.5],[265.2,6.4],[267.9,8.3],[270.7,7.0],[274.9,6.2],[279,5.8],[281.8,5.6],[284.6,6.8],[288.7,6.2],[291.5,7.4],[292.9,8.2],[295.7,7.0],[299.8,5.6],[302.6,5.4],[306.8,4.8],[310.9,4.7],[317.9,4.45],[324.8,4.25],[331.7,3.85],[335.9,4.05],[340,3.65],[345.6,3.55],[351.1,3.15],[356.7,2.95],[365,2.95]];

// ---------------- STYLE / LAYOUT ----------------
const C2018 = '#92D050', C2019 = '#77933C', C2020 = '#467CBE', C2021 = '#8DB4E2';
const BAND_FILL = '#D9D9D9', BAND_LINE = '#8C8C8C', MEAN_COL = '#858585', AXIS_COL = '#8A8A8A';
const FONT = 'Lato, "Open Sans", sans-serif';
Chart.defaults.font.family = FONT;

const PANELS = [
  {top:23,  bottom:359,  d:{upper:p5_upper,lower:p5_lower,mean:p5_mean,y18:p5_2018,y19:p5_2019,y20:p5_2020,y21:p5_2021}},
  {top:439, bottom:778,  d:{upper:p6_upper,lower:p6_lower,mean:p6_mean,y18:p6_2018,y19:p6_2019,y20:p6_2020,y21:p6_2021}},
  {top:858, bottom:1195, d:{upper:p7_upper,lower:p7_lower,mean:p7_mean,y18:p7_2018,y19:p7_2019,y20:p7_2020,y21:p7_2021}},
  {top:1274,bottom:1612, d:{upper:p8_upper,lower:p8_lower,mean:p8_mean,y18:p8_2018,y19:p8_2019,y20:p8_2020,y21:p8_2021}}
];
// PAD_TOP must exceed the y-axis label padding (half label height + tick padding)
const PAD_TOP = 40, X_AXIS_H = 48, LEFT_W = 83, RIGHT_W = 79;

function toXY(arr){ return arr.slice().sort((a,b)=>a[0]-b[0]).map(p=>({x:p[0],y:p[1]})); }
function yearLine(label, arr, color, order){
  return {label, data:toXY(arr), borderColor:color, borderWidth:3, pointRadius:0, fill:false,
          cubicInterpolationMode:'monotone', borderJoinStyle:'round', borderCapStyle:'round', order};
}

function decorPlugin(title){
  return {
    id:'decor',
    afterDraw(chart){
      const {ctx, chartArea:a, scales} = chart;
      ctx.save();
      ctx.strokeStyle = AXIS_COL; ctx.lineWidth = 1.5;
      ctx.beginPath();
      scales.y.ticks.forEach(t=>{
        const y = Math.round(scales.y.getPixelForValue(t.value))+0.5;
        ctx.moveTo(a.left, y); ctx.lineTo(a.left+6, y);
        ctx.moveTo(a.right-6, y); ctx.lineTo(a.right, y);
      });
      scales.x.ticks.forEach(t=>{
        const x = Math.round(scales.x.getPixelForValue(t.value))+0.5;
        ctx.moveTo(x, a.bottom); ctx.lineTo(x, a.bottom-7);
      });
      ctx.stroke();
      ctx.fillStyle = '#000';
      ctx.textBaseline = 'alphabetic';
      ctx.textAlign = 'left';
      ctx.font = 'bold 22.5px ' + FONT;
      ctx.fillText(title, 101, a.top + 6.5);
      ctx.font = '20px ' + FONT;
      ctx.textAlign = 'center';
      ctx.textBaseline = 'middle';
      const cy = (a.top + a.bottom)/2;
      [22.5, 1058].forEach(x=>{
        ctx.save(); ctx.translate(x, cy); ctx.rotate(-Math.PI/2);
        ctx.fillText(Y_TITLE, 0, 0); ctx.restore();
      });
      ctx.restore();
    }
  };
}

PANELS.forEach((P, i)=>{
  const cv = document.createElement('canvas');
  const h = P.bottom - P.top + PAD_TOP + X_AXIS_H;
  cv.width = 1073; cv.height = h;
  cv.style.width = '1073px'; cv.style.height = h + 'px';
  cv.style.top = (P.top - PAD_TOP) + 'px';
  document.body.appendChild(cv);
  const flat = FLAT_LEVEL[i];
  const d = P.d;
  const yAxisBase = {
    min:0, max:20,
    ticks:{stepSize:2, padding:20, color:'#000', font:{size:21}},
    grid:{display:false, drawTicks:false},
    border:{display:true, color:AXIS_COL, width:2}
  };
  new Chart(cv, {
    type:'line',
    data:{datasets:[
      yearLine('2021', d.y21, C2021, 1),
      yearLine('2020', d.y20, C2020, 2),
      yearLine('2019', d.y19, C2019, 3),
      yearLine('2018', d.y18, C2018, 4),
      {label:'level', data:[{x:0,y:flat},{x:365,y:flat}], borderColor:MEAN_COL, borderWidth:3.2,
       borderDash:[0,8], borderCapStyle:'round', pointRadius:0, fill:false, order:5},
      {label:'mean', data:toXY(d.mean), borderColor:MEAN_COL, borderWidth:3.2, borderDash:[0,8],
       borderCapStyle:'round', pointRadius:0, fill:false, cubicInterpolationMode:'monotone', order:6},
      {label:'min', data:toXY(d.lower), borderColor:BAND_LINE, borderWidth:1.4, borderDash:[2,2],
       pointRadius:0, fill:false, tension:0, order:7},
      {label:'Variation 2008-2017', data:toXY(d.upper), borderColor:BAND_LINE, borderWidth:1.4, borderDash:[2,2],
       pointRadius:0, fill:'-1', backgroundColor:BAND_FILL, tension:0, order:8}
    ]},
    options:{
      responsive:false, animation:false, devicePixelRatio:1,
      layout:{padding:{top:PAD_TOP, left:0, right:0, bottom:0}},
      plugins:{legend:{display:false}, tooltip:{enabled:false}, title:{display:false}},
      scales:{
        x:{type:'linear', min:0, max:365,
           afterBuildTicks:(s)=>{ s.ticks = MONTH_START.map(v=>({value:v})); },
           ticks:{autoSkip:false, maxRotation:0, minRotation:0, padding:16, color:'#000', font:{size:20},
                  callback:(v, idx)=>MONTHS[idx]},
           grid:{display:false, drawTicks:false},
           border:{display:true, color:AXIS_COL, width:2},
           afterFit:(s)=>{ s.height = X_AXIS_H; }},
        y:Object.assign({position:'left', afterFit:(s)=>{ s.width = LEFT_W; }}, yAxisBase),
        y2:Object.assign({position:'right', afterFit:(s)=>{ s.width = RIGHT_W; }}, yAxisBase)
      }
    },
    plugins:[decorPlugin(TITLES[i])]
  });
});

// legend text: condensed like the reference
document.querySelectorAll('.lg-txt').forEach(el=>{
  const w = el.getBoundingClientRect().width;
  const target = parseFloat(el.dataset.w);
  if (w > 0) el.style.transform = 'scaleX(' + (target / w).toFixed(3) + ')';
});
</script>
</body>
</html>
